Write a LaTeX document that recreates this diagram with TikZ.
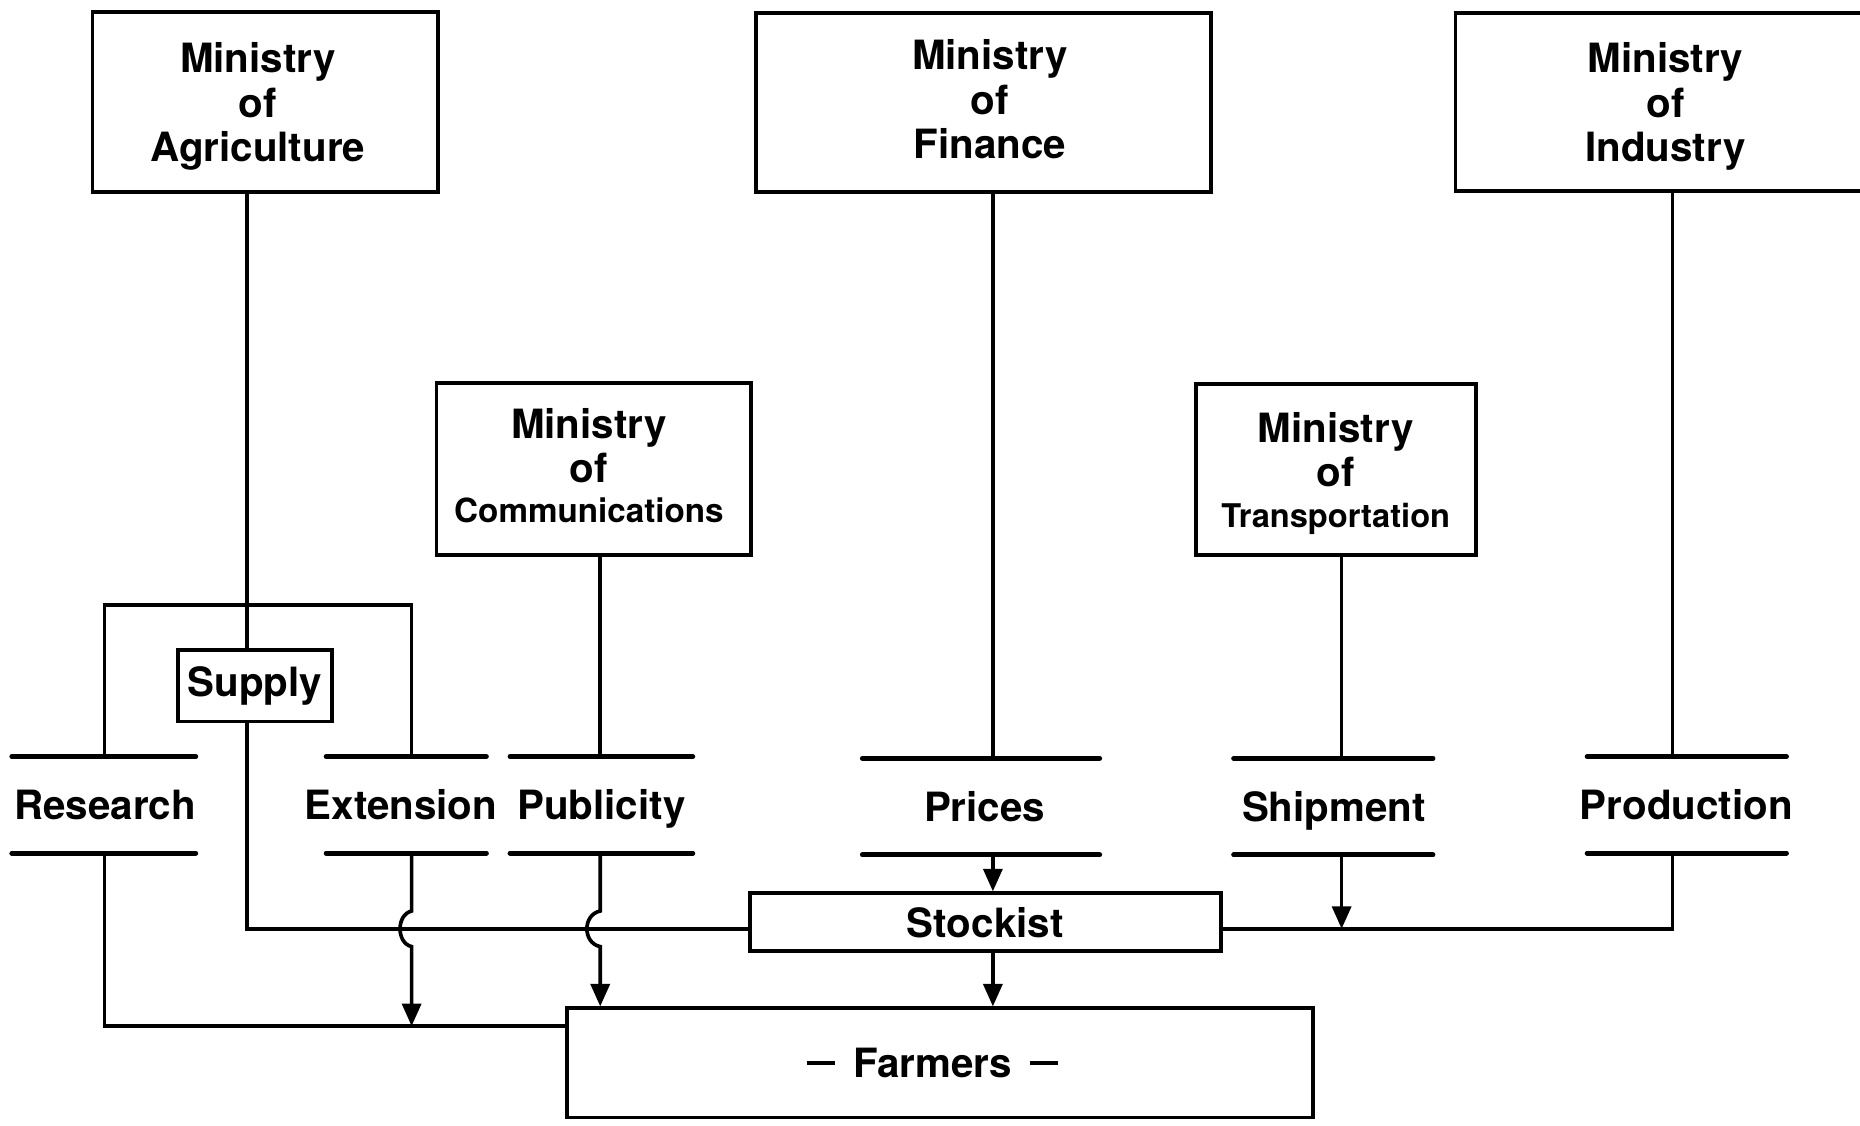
\documentclass[tikz,border=0pt]{standalone}
\usepackage{fontspec}
\setmainfont{TeX Gyre Heros}
\usetikzlibrary{arrows.meta,calc}
\newcommand\fdash{\rule[10.5pt]{24pt}{3.4pt}}
\begin{document}
\begin{tikzpicture}[x=1pt,y=-1pt,
  every node/.style={font=\bfseries\fontsize{34}{37.5}\selectfont},
  mbox/.style={draw, line width=3.2pt, align=center, inner sep=0pt},
  ministry/.style={mbox, text depth=0pt},
  lbl/.style={inner sep=0pt, minimum width=0pt, minimum height=81pt, text height=24.4pt, text depth=0pt},
  bar/.style={line width=4.2pt, line cap=round},
  conn/.style={line width=3.1pt},
  arr/.style={conn, -{Triangle[length=19pt,width=16pt]}},
]
\useasboundingbox (0,0) rectangle (1568,949);

% ministries
\node[ministry, minimum width=291pt, minimum height=152pt] (agri) at (223.5,86)
  {\hspace{-12pt}Ministry\\\hspace{-12pt}of\\\hspace{-12pt}Agriculture};
\node[ministry, text depth=6pt, minimum width=384pt, minimum height=151pt] (fin) at (829,86.5)
  {\hspace{11pt}Ministry\\\hspace{11pt}of\\\hspace{11pt}Finance};
\node[ministry, minimum width=354pt, minimum height=150pt] (ind) at (1404,86) {Ministry\\of\\Industry};
\node[ministry, text depth=6pt, minimum width=265pt, minimum height=145pt] (comm) at (500.5,395.5)
  {\hspace{-8pt}Ministry\\\hspace{-8pt}of\\[-4pt]\hspace{-8pt}{\fontsize{28}{37.5}\selectfont Communications}};
\node[ministry, minimum width=236pt, minimum height=144pt] (trans) at (1126,396)
  {Ministry\\of\\[-3pt]{\fontsize{27.5}{37.5}\selectfont Transportation}};

% intermediate boxes
\node[mbox, line width=2.8pt, minimum width=130pt, minimum height=60pt] (supply) at (215,578) {Supply};
\node[mbox, minimum width=397pt, minimum height=49pt] (stockist) at (830.5,777.5) {Stockist};
\node[mbox, minimum width=629pt, minimum height=92pt] (farmers) at (792.5,896)
  {\fdash\hspace{15pt}Farmers\hspace{15pt}\fdash\hspace{13pt}};

% functions between two bars
\node[lbl] (res) at (88.5,678.5) {Research};
\node[lbl] (ext) at (338,678.5) {Extension};
\node[lbl] (pub) at (507,678.5) {Publicity};
\node[lbl] (pri) at (830,680) {Prices};
\node[lbl] (shp) at (1124.5,680) {Shipment};
\node[lbl] (prd) at (1421.5,678.5) {Production};
\foreach \n/\l/\r in {res/10/165, ext/275/410, pub/430/584, pri/727/927, shp/1040/1208, prd/1338/1506} {
  \path (\n.north) coordinate (top) (\n.south) coordinate (bot);
  \draw[bar] (\l,0 |- top) -- (\r,0 |- top);
  \draw[bar] (\l,0 |- bot) -- (\r,0 |- bot);
}

% line positions
\coordinate (rx) at (88,0);
\coordinate (ax) at (208,0);
\coordinate (ex) at (347,0);
\coordinate (px) at (506,0);
\coordinate (fx) at (837,0);
\coordinate (tx) at (1131,0);
\coordinate (ix) at (1410,0);
\coordinate (ty) at (0,510);
\coordinate (hy) at (0,783);
\coordinate (ry) at (0,865);

% frame over research and extension
\draw[conn] (rx |- res.north) -- (rx |- ty) -- (ex |- ty) -- (ex |- ext.north);

% agriculture -> supply -> stockist
\draw[conn] (ax |- agri.south) -- (ax |- supply.north);
\draw[conn] (ax |- supply.south) -- (ax |- hy) -- (stockist.west |- hy);

% communications -> publicity
\draw[conn] (px |- comm.south) -- (px |- pub.north);

% finance -> prices -> stockist -> farmers
\draw[conn] (fx |- fin.south) -- (fx |- pri.north);
\draw[arr] (fx |- pri.south) -- (fx |- stockist.north);
\draw[arr] (fx |- stockist.south) -- (fx |- farmers.north);

% transportation -> shipment
\draw[conn] (tx |- trans.south) -- (tx |- shp.north);
\draw[arr] (tx |- shp.south) -- (tx |- hy);

% industry -> production -> stockist
\draw[conn] (ix |- ind.south) -- (ix |- prd.north);
\draw[conn] (ix |- prd.south) -- (ix |- hy) -- (stockist.east |- hy);

% research -> farmers
\draw[conn] (rx |- res.south) -- (rx |- ry) -- (farmers.west |- ry);

% extension and publicity hop over the supply line
\draw[arr] (ex |- ext.south) -- ($(ex |- hy)+(0,-15)$)
  .. controls ($(ex |- hy)+(-13,-12)$) and ($(ex |- hy)+(-13,12)$) .. ($(ex |- hy)+(0,15)$)
  -- (ex |- ry);
\draw[arr] (px |- pub.south) -- ($(px |- hy)+(0,-15)$)
  .. controls ($(px |- hy)+(-15,-12)$) and ($(px |- hy)+(-15,12)$) .. ($(px |- hy)+(0,15)$)
  -- (px |- farmers.north);
\end{tikzpicture}
\end{document}
